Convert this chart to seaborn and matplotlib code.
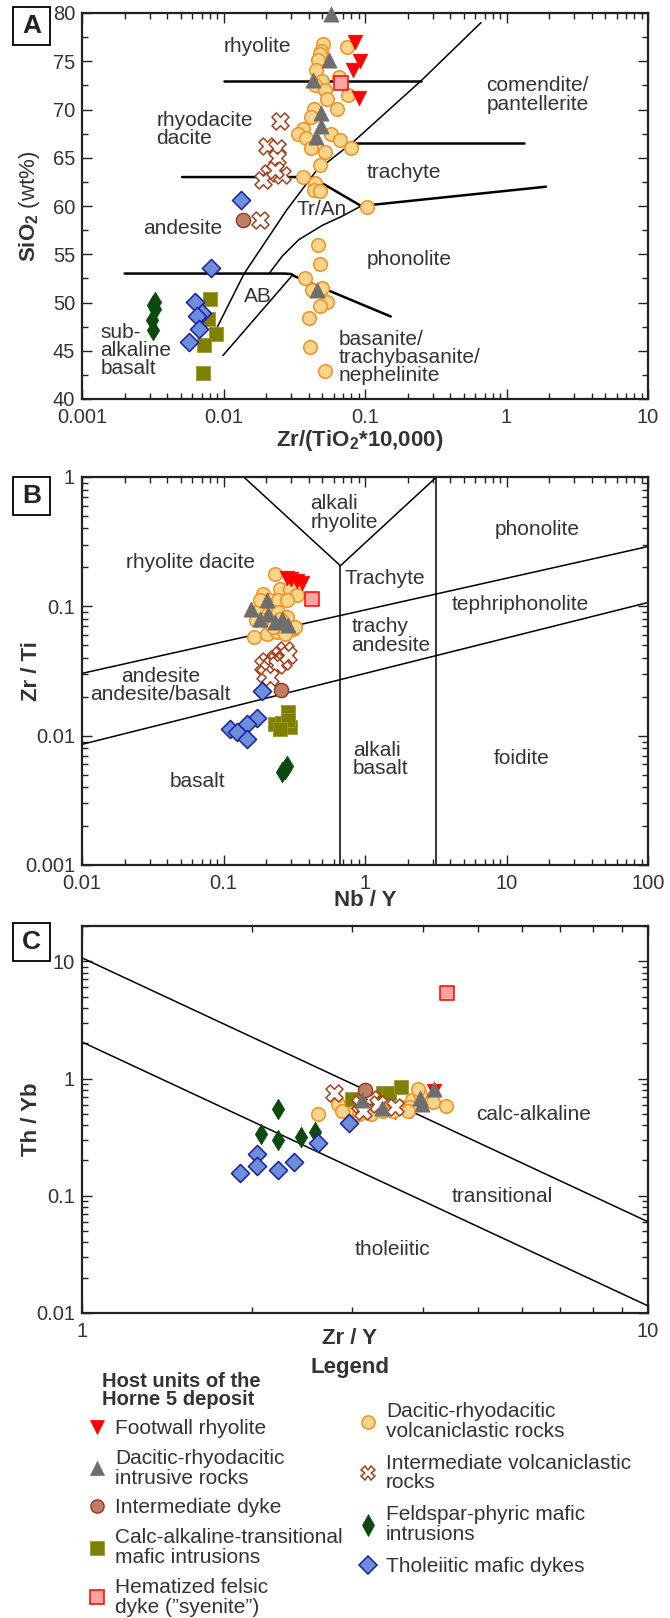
import numpy as np
import pandas as pd
import matplotlib
matplotlib.use("Agg")
import matplotlib.pyplot as plt
import matplotlib.ticker as mticker
from matplotlib.lines import Line2D
from matplotlib.patches import Rectangle
import seaborn as sns

sns.set_style("ticks")
plt.rcParams['font.family'] = ['Liberation Sans', 'DejaVu Sans']
plt.rcParams['mathtext.fontset'] = 'custom'
plt.rcParams['mathtext.rm'] = 'Liberation Sans'
plt.rcParams['mathtext.bf'] = 'Liberation Sans:bold'

####### data #######
# Panel A : Zr/(TiO2*10000) vs SiO2
a_foot_x = [0.0845, 0.0917, 0.0828, 0.090]
a_foot_y = [77.0, 75.0, 74.1, 71.2]
a_intr_x = [0.0578, 0.0553, 0.043, 0.049, 0.049, 0.0452, 0.046]
a_intr_y = [79.9, 75.1, 73.1, 69.6, 68.3, 67.2, 51.3]
a_volc_x = [0.0507, 0.049, 0.0477, 0.0467, 0.0451, 0.050, 0.0442, 0.0651, 0.0743, 0.0518,
            0.0536, 0.0758, 0.0638, 0.0436, 0.0415, 0.0366, 0.0335, 0.0385, 0.0578, 0.0669,
            0.0801, 0.0412, 0.0518, 0.0477, 0.0366, 0.0445, 0.0438, 0.0477, 0.1035, 0.0467,
            0.0477, 0.0374, 0.042, 0.050, 0.0536, 0.0477, 0.040, 0.041, 0.0525]
a_volc_y = [76.8, 76.1, 75.8, 75.1, 74.1, 73.0, 72.5, 73.4, 76.5, 72.0,
            71.1, 71.5, 70.1, 70.1, 69.2, 68.0, 67.5, 67.0, 67.5, 66.8,
            66.0, 66.0, 65.6, 64.2, 63.0, 62.4, 61.7, 61.6, 59.9, 56.0,
            54.0, 52.5, 51.3, 51.5, 50.1, 49.6, 48.4, 45.4, 42.9]
a_ivol_x = [0.0249, 0.0203, 0.0237, 0.0239, 0.021, 0.019, 0.0257, 0.0230, 0.018]
a_ivol_y = [68.8, 66.2, 66.0, 65.0, 63.4, 62.7, 63.2, 63.7, 58.6]
a_dyke_x = [0.0137]
a_dyke_y = [58.5]
a_calc_x = [0.0080, 0.0078, 0.0089, 0.00726, 0.0072]
a_calc_y = [50.4, 48.3, 46.7, 45.6, 42.7]
a_feld_x = [0.00327, 0.00319, 0.0033, 0.0031, 0.0032]
a_feld_y = [50.1, 49.7, 49.3, 48.2, 47.2]
a_thol_x = [0.0132, 0.0082, 0.00627, 0.0071, 0.00645, 0.0067, 0.00571]
a_thol_y = [60.6, 53.6, 50.1, 48.9, 48.6, 47.3, 45.9]
a_hema_x = [0.068]
a_hema_y = [72.7]

# Panel B : Nb/Y vs Zr/Ti
b_foot_x = [0.28, 0.30, 0.33, 0.36]
b_foot_y = [0.165, 0.162, 0.158, 0.152]
b_intr_x = [0.156, 0.204, 0.181, 0.206, 0.231, 0.287, 0.26]
b_intr_y = [0.096, 0.111, 0.080, 0.0877, 0.0757, 0.0713, 0.080]
b_volc_x = [0.231, 0.191, 0.251, 0.295, 0.329, 0.213, 0.244, 0.181, 0.206, 0.244, 0.280, 0.191,
            0.213, 0.251, 0.311, 0.163, 0.202, 0.237, 0.272, 0.320, 0.171, 0.224, 0.251, 0.181, 0.28]
b_volc_y = [0.177, 0.125, 0.135, 0.135, 0.122, 0.111, 0.111, 0.093, 0.0877, 0.0902, 0.0826, 0.0779,
            0.0757, 0.0713, 0.0671, 0.0578, 0.0614, 0.0632, 0.0614, 0.0690, 0.0779, 0.0690, 0.080,
            0.111, 0.111]
b_ivol_x = [0.272, 0.251, 0.231, 0.202, 0.264, 0.219, 0.191, 0.206, 0.237, 0.197, 0.213, 0.287]
b_ivol_y = [0.0456, 0.0417, 0.0393, 0.0381, 0.0381, 0.0359, 0.0349, 0.0329, 0.0349, 0.0301,
            0.0283, 0.0417]
b_dyke_x = [0.254]
b_dyke_y = [0.0227]
b_calc_x = [0.231, 0.258, 0.287, 0.295, 0.287, 0.251]
b_calc_y = [0.0123, 0.0126, 0.0152, 0.0116, 0.0131, 0.0113]
b_feld_x = [0.26, 0.28, 0.27]
b_feld_y = [0.0052, 0.0058, 0.0055]
b_thol_x = [0.186, 0.173, 0.146, 0.111, 0.125, 0.146]
b_thol_y = [0.0221, 0.0137, 0.0123, 0.0113, 0.0106, 0.0094]
b_hema_x = [0.422]
b_hema_y = [0.113]

# Panel C : Zr/Y vs Th/Yb
c_foot_x = [3.30, 3.57, 3.81, 4.19]
c_foot_y = [0.53, 0.52, 0.53, 0.78]
c_intr_x = [3.13, 3.39, 3.96, 3.98, 4.19]
c_intr_y = [0.65, 0.56, 0.68, 0.61, 0.81]
c_volc_x = [2.61, 2.83, 2.97, 3.08, 3.19, 3.30, 3.45, 3.66, 3.83, 3.96, 4.17, 4.39,
            2.88, 3.24, 3.55, 3.80, 3.77, 3.02, 3.40, 3.93]
c_volc_y = [0.50, 0.61, 0.55, 0.50, 0.53, 0.65, 0.69, 0.57, 0.65, 0.74, 0.63, 0.58,
            0.53, 0.50, 0.53, 0.57, 0.53, 0.63, 0.53, 0.81]
c_ivol_x = [2.79, 3.10, 3.24, 3.33, 3.57, 3.14]
c_ivol_y = [0.75, 0.61, 0.67, 0.61, 0.57, 0.53]
c_dyke_x = [3.16]
c_dyke_y = [0.80]
c_calc_x = [3.0, 3.40, 3.48, 3.66]
c_calc_y = [0.67, 0.75, 0.76, 0.84]
c_feld_x = [2.07, 2.22, 2.22, 2.44, 2.58]
c_feld_y = [0.337, 0.55, 0.300, 0.316, 0.348]
c_thol_x = [1.90, 2.04, 2.04, 2.22, 2.37, 2.61, 2.96]
c_thol_y = [0.157, 0.228, 0.179, 0.165, 0.194, 0.281, 0.419]
c_hema_x = [4.42]
c_hema_y = [5.38]

# classification boundaries
a_diag_x = [0.009, 0.014, 0.028, 0.045, 0.082, 0.25, 0.66]
a_diag_y = [47.4, 53.0, 59.6, 63.6, 66.6, 73.0, 79.0]
a_h73_x, a_h73_y = [0.01, 0.25], [73.0, 73.0]
a_h66_x, a_h66_y = [0.082, 1.32], [66.5, 66.5]
a_h63_x = [0.0051, 0.034, 0.043, 0.052, 0.068, 0.094]
a_h63_y = [63.0, 63.0, 62.7, 62.2, 61.2, 60.0]
a_trph_x, a_trph_y = [0.094, 1.9], [60.0, 62.0]
a_tran_x = [0.021, 0.026, 0.034, 0.05, 0.068, 0.094]
a_tran_y = [53.0, 54.8, 56.5, 58.0, 58.9, 60.0]
a_h53_x = [0.002, 0.027, 0.030, 0.032, 0.152]
a_h53_y = [53.0, 53.0, 52.95, 52.7, 48.55]
a_ab_x, a_ab_y = [0.0099, 0.031], [44.5, 52.9]

b_up_x, b_up_y = [0.01, 100], [0.0303, 0.29]
b_lo_x, b_lo_y = [0.01, 100], [0.00857, 0.107]
b_v_x, b_v_y = [0.139, 0.67, 3.2], [1.0, 0.206, 1.0]
b_v1_x, b_v1_y = [0.67, 0.67], [0.001, 0.206]
b_v2_x, b_v2_y = [3.2, 3.2], [0.001, 1.0]

c_up_x, c_up_y = [1, 10], [10.7, 0.06]
c_lo_x, c_lo_y = [1, 10], [2.05, 0.0115]

# field names
a_lab = ["rhyolite", "comendite/\npantellerite", "rhyodacite\ndacite", "trachyte", "Tr/An",
         "andesite", "phonolite", "AB", "sub-\nalkaline\nbasalt",
         "basanite/\ntrachybasanite/\nnephelinite"]
a_lab_x = [0.00995, 0.72, 0.00336, 0.102, 0.0326, 0.00269, 0.102, 0.0139, 0.00135, 0.065]
a_lab_y = [76.5, 71.5, 67.9, 63.5, 59.6, 57.7, 54.5, 50.6, 45.0, 44.3]
b_lab = ["alkali\nrhyolite", "phonolite", "rhyolite dacite", "Trachyte", "tephriphonolite",
         "trachy\nandesite", "alkali\nbasalt", "foidite", "basalt"]
b_lab_x = [0.41, 8.26, 0.0204, 0.72, 4.07, 0.80, 0.824, 8.15, 0.0414]
b_lab_y = [0.526, 0.39, 0.218, 0.165, 0.104, 0.059, 0.00655, 0.00663, 0.00445]
c_lab = ["calc-alkaline", "transitional", "tholeiitic"]
c_lab_x = [4.96, 4.5, 3.03]
c_lab_y = [0.49, 0.098, 0.0351]

groups = ["volc", "ivol", "dyke", "calc", "feld", "thol", "intr", "foot", "hema"]
names = {
    "foot": "Footwall rhyolite",
    "intr": "Dacitic-rhyodacitic\nintrusive rocks",
    "dyke": "Intermediate dyke",
    "calc": "Calc-alkaline-transitional\nmafic intrusions",
    "hema": "Hematized felsic\ndyke (\u201dsyenite\u201d)",
    "volc": "Dacitic-rhyodacitic\nvolcaniclastic rocks",
    "ivol": "Intermediate volcaniclastic\nrocks",
    "feld": "Feldspar-phyric mafic\nintrusions",
    "thol": "Tholeiitic mafic dykes",
}
sty = {
    "foot": dict(marker='v', fc='#ff0000', ec='#ff0000', s=110, lw=0.5, ms=10),
    "intr": dict(marker='^', fc='#6e6e6e', ec='#6e6e6e', s=120, lw=0.5, ms=10),
    "dyke": dict(marker='o', fc='#c27d65', ec='#8c3b22', s=105, lw=1.0, ms=9.5),
    "calc": dict(marker='s', fc='#808000', ec='#9a9a30', s=95, lw=0.6, ms=9.5),
    "hema": dict(marker='s', fc='#ffa3a3', ec='#ff1010', s=95, lw=1.2, ms=9.5),
    "volc": dict(marker='o', fc='#f7d58c', ec='#f7901e', s=95, lw=1.1, ms=9.5),
    "ivol": dict(marker='X', fc='white', ec='#a3401c', s=150, lw=1.1, ms=10),
    "feld": dict(marker='d', fc='#0b4a0e', ec='#0b4a0e', s=110, lw=0.5, ms=11),
    "thol": dict(marker='D', fc='#6b8fd9', ec='#1c1cab', s=85, lw=1.1, ms=9),
}

data = {
    "A": {"foot": (a_foot_x, a_foot_y), "intr": (a_intr_x, a_intr_y), "volc": (a_volc_x, a_volc_y),
          "ivol": (a_ivol_x, a_ivol_y), "dyke": (a_dyke_x, a_dyke_y), "calc": (a_calc_x, a_calc_y),
          "feld": (a_feld_x, a_feld_y), "thol": (a_thol_x, a_thol_y), "hema": (a_hema_x, a_hema_y)},
    "B": {"foot": (b_foot_x, b_foot_y), "intr": (b_intr_x, b_intr_y), "volc": (b_volc_x, b_volc_y),
          "ivol": (b_ivol_x, b_ivol_y), "dyke": (b_dyke_x, b_dyke_y), "calc": (b_calc_x, b_calc_y),
          "feld": (b_feld_x, b_feld_y), "thol": (b_thol_x, b_thol_y), "hema": (b_hema_x, b_hema_y)},
    "C": {"foot": (c_foot_x, c_foot_y), "intr": (c_intr_x, c_intr_y), "volc": (c_volc_x, c_volc_y),
          "ivol": (c_ivol_x, c_ivol_y), "dyke": (c_dyke_x, c_dyke_y), "calc": (c_calc_x, c_calc_y),
          "feld": (c_feld_x, c_feld_y), "thol": (c_thol_x, c_thol_y), "hema": (c_hema_x, c_hema_y)},
}

TXT = '#333333'
FS = 15       # field names and legend
TFS = 14.5    # tick labels

W, H = 670, 1618
fig = plt.figure(figsize=(W / 100, H / 100), dpi=100)

def px_axes(top, bottom, left=82, right=648):
    return fig.add_axes([left / W, 1 - bottom / H, (right - left) / W, (bottom - top) / H])

axA = px_axes(13, 399)
axB = px_axes(477, 865)
axC = px_axes(926, 1313)

fmt = mticker.FuncFormatter(lambda v, p: f"{v:g}")

def style_axis(ax, logy=True):
    ax.set_xscale('log')
    ax.xaxis.set_major_locator(mticker.LogLocator(base=10, numticks=12))
    ax.xaxis.set_minor_locator(mticker.LogLocator(base=10, subs=np.arange(2, 10), numticks=12))
    ax.xaxis.set_major_formatter(fmt)
    ax.xaxis.set_minor_formatter(mticker.NullFormatter())
    if logy:
        ax.set_yscale('log')
        ax.yaxis.set_major_locator(mticker.LogLocator(base=10, numticks=12))
        ax.yaxis.set_minor_locator(mticker.LogLocator(base=10, subs=np.arange(2, 10), numticks=12))
        ax.yaxis.set_major_formatter(fmt)
        ax.yaxis.set_minor_formatter(mticker.NullFormatter())
    ax.tick_params(which='both', direction='in', top=True, right=True, colors='#222222',
                   labelcolor=TXT, labelsize=TFS, width=1.0)
    ax.tick_params(which='major', length=7)
    ax.tick_params(which='minor', length=4)
    ax.tick_params(axis='x', which='major', pad=6.5)
    ax.tick_params(axis='y', which='major', pad=5)
    for sp in ax.spines.values():
        sp.set_linewidth(1.6)
        sp.set_color('#222222')

style_axis(axA, logy=False)
axA.set_xlim(0.001, 10)
axA.set_ylim(40, 80)
axA.yaxis.set_major_locator(mticker.MultipleLocator(5))
axA.yaxis.set_minor_locator(mticker.MultipleLocator(2.5))

style_axis(axB)
axB.set_xlim(0.01, 100)
axB.set_ylim(0.001, 1)

style_axis(axC)
axC.set_xlim(1, 10)
axC.set_ylim(0.01, 20)

# boundaries
thin = dict(color='black', lw=1.1, zorder=2)
thick = dict(color='black', lw=1.8, zorder=2)
axA.plot(a_diag_x, a_diag_y, **thin)
axA.plot(a_h73_x, a_h73_y, **thick)
axA.plot(a_h66_x, a_h66_y, **thick)
axA.plot(a_h63_x, a_h63_y, **thick)
axA.plot(a_trph_x, a_trph_y, **thick)
axA.plot(a_tran_x, a_tran_y, **thin)
axA.plot(a_h53_x, a_h53_y, **thick)
axA.plot(a_ab_x, a_ab_y, **thin)

for xs, ys in [(b_up_x, b_up_y), (b_lo_x, b_lo_y), (b_v_x, b_v_y), (b_v1_x, b_v1_y), (b_v2_x, b_v2_y)]:
    axB.plot(xs, ys, **thin)
axC.plot(c_up_x, c_up_y, **thin)
axC.plot(c_lo_x, c_lo_y, **thin)

# field labels
for t, x, y in zip(a_lab, a_lab_x, a_lab_y):
    axA.text(x, y, t, ha='left', va='center', fontsize=FS, color=TXT, linespacing=0.95, zorder=3)
for t, x, y in zip(b_lab, b_lab_x, b_lab_y):
    axB.text(x, y, t, ha='left', va='center', fontsize=FS, color=TXT, linespacing=0.95, zorder=3)
axB.text(0.036, 0.0244, "andesite\nandesite/basalt", ha='center', va='center', fontsize=FS,
         color=TXT, linespacing=0.95, zorder=3)
for t, x, y in zip(c_lab, c_lab_x, c_lab_y):
    axC.text(x, y, t, ha='left', va='center', fontsize=FS, color=TXT, zorder=3)

# samples
order_c = ["foot", "volc", "calc", "ivol", "dyke", "intr", "feld", "thol", "hema"]
for panel, ax in [("A", axA), ("B", axB), ("C", axC)]:
    order = order_c if panel == "C" else groups
    for i, g in enumerate(order):
        xs, ys = data[panel][g]
        st = sty[g]
        sns.scatterplot(x=xs, y=ys, ax=ax, marker=st['marker'], color=st['fc'],
                        edgecolor=st['ec'], s=st['s'], linewidth=st['lw'],
                        zorder=5 + i, clip_on=False, legend=False)

# axis labels
lab = dict(fontsize=16, fontweight='bold', color=TXT)
axA.set_xlabel(r"Zr/(TiO$_\mathbf{2}$*10,000)", **lab)
axA.set_ylabel(r"$\mathbf{SiO_2}$ (wt%)", fontsize=16, color=TXT)
axB.set_xlabel("Nb / Y", **lab)
axB.set_ylabel("Zr / Ti", **lab)
axC.set_xlabel("Zr / Y", **lab)
axC.set_ylabel("Th / Yb", **lab)
axA.xaxis.set_label_coords(0.49, -0.074)
axB.xaxis.set_label_coords(0.5, -0.064)
axC.xaxis.set_label_coords(0.472, -0.040)
for ax in (axA, axB, axC):
    ax.yaxis.set_label_coords(-0.07, 0.5)

# panel letters
for letter, top in [("A", 7), ("B", 477), ("C", 923)]:
    fig.patches.append(Rectangle((13 / W, 1 - (top + 38) / H), 37 / W, 38 / H,
                                 transform=fig.transFigure, fill=False, ec='black', lw=1.3))
    fig.text(31.5 / W, 1 - (top + 19) / H, letter, ha='center', va='center',
             fontsize=19, fontweight='bold', color='#222222')

# legend
fig.text(350 / W, 1 - 1368 / H, "Legend", ha='center', va='center', fontsize=16,
         fontweight='bold', color=TXT)
fig.text(102 / W, 1 - 1372 / H, "Host units of the\nHorne 5 deposit", ha='left', va='top',
         fontsize=14.5, fontweight='bold', color=TXT, linespacing=0.95)

def handle(g):
    st = sty[g]
    return Line2D([], [], linestyle='none', marker=st['marker'], markersize=st['ms'],
                  markerfacecolor=st['fc'], markeredgecolor=st['ec'], markeredgewidth=st['lw'])

left_keys = ["foot", "intr", "dyke", "calc", "hema"]
right_keys = ["volc", "ivol", "feld", "thol"]
for keys, x0, y0, sp in [(left_keys, 89, 1419, 0.52), (right_keys, 360, 1402, 0.62)]:
    leg = fig.legend([handle(k) for k in keys], [names[k] for k in keys], loc='upper left',
                     bbox_to_anchor=(x0 / W, 1 - y0 / H), frameon=False, fontsize=FS,
                     handlelength=0.8, handletextpad=0.45, labelspacing=sp,
                     borderpad=0, borderaxespad=0)
    for t in leg.get_texts():
        t.set_linespacing(1.05)
        t.set_color(TXT)

fig.savefig("out.png", dpi=100)
